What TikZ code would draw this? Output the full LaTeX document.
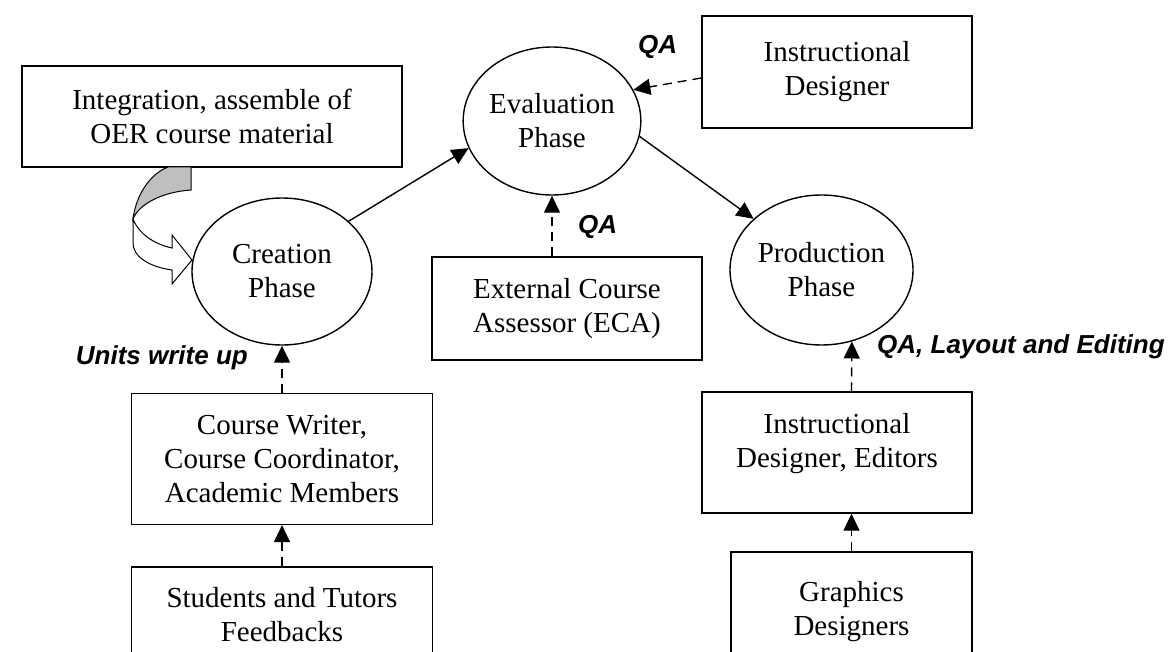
\documentclass[tikz,border=0pt]{standalone}
\usepackage{fontspec}
\setmainfont{Liberation Serif}
\newfontfamily\qafont{Liberation Sans}
\usetikzlibrary{shapes.geometric, arrows.meta, positioning}

\begin{document}
\begin{tikzpicture}[
        x=1pt, y=-1pt,
        box/.style={rectangle, draw=black, line width=1.4pt, minimum width=270pt, minimum height=103pt, inner sep=0pt, align=center, font=\fontsize{29}{34}\selectfont},
        phase/.style={ellipse, draw=black, line width=1.4pt, inner sep=0pt, align=center, font=\fontsize{29}{34}\selectfont},
        flow/.style={line width=1.4pt, -{Triangle[length=17pt,width=16pt]}},
        qa/.style={flow, dash pattern=on 9pt off 6pt},
        tag/.style={font=\qafont\bfseries\itshape\fontsize{26}{30}\selectfont, inner sep=0pt}
    ]
    \clip (0,0) rectangle (1173,652);

    % Phases
    \node[phase, minimum width=180pt, minimum height=147pt] (crea) at (282,271.5) {Creation\\Phase};
    \node[phase, minimum width=176pt, minimum height=148pt] (eval) at (552,121) {Evaluation\\Phase};
    \node[phase, minimum width=183pt, minimum height=150pt] (prod) at (821.5,270) {Production\\Phase};

    % Boxes
    \node[box, minimum width=380pt, minimum height=101pt] (integ) at (212,116.5) {Integration, assemble of\\OER course material};
    \node[box, minimum height=112pt] (idtop) at (837,72) {Instructional\\Designer};
    \node[box] (eca) at (567,308.5) {External Course\\Assessor (ECA)};
    \node[box, minimum width=301pt, minimum height=131pt, below=47pt of crea] (cw) {Course Writer,\\Course Coordinator,\\Academic Members};
    \node[box, minimum width=301pt, minimum height=96pt, below=41pt of cw] (stud) {Students and Tutors\\Feedbacks};
    \node[box, minimum height=121pt, text depth=25pt] (ided) at (837,452.5) {Instructional\\Designer, Editors};
    \node[box, minimum width=241pt, minimum height=120pt] (gfx) at (851.5,612) {Graphics\\Designers};

    % Curved arrow
    \filldraw[fill=black!25, line width=1pt] (191,167) -- (191,190) .. controls (162,192) and (139,204) .. (133,219) .. controls (136,195) and (150,174) .. (168,167) -- cycle;
    \filldraw[fill=white, line width=1pt] (133,219) .. controls (139,234) and (154,244) .. (172,248) -- (172,235) -- (192,260) -- (172,284) -- (172,270) .. controls (150,267) and (133,257) .. (133,243) -- cycle;

    % Connections
    \draw[flow] (crea.37) -- (eval.198);
    \draw[flow] (eval.-10) -- (prod.143);
    \draw[qa] ([yshift=-6pt]idtop.west) -- (eval.21);
    \draw[qa] (eca.north -| eval.south) -- (eval.south);
    \draw[qa] (cw.north) -- (crea.south);
    \draw[qa] (stud.north) -- (cw.south);
    \draw[qa] (ided.north -| gfx.north) -- (prod.-67);
    \draw[qa] (gfx.north) -- (ided.south -| gfx.north);

    % Labels
    \node[tag, anchor=base west] (qatop) at (638,54) {QA};
    \node[tag, anchor=base west] (qamid) at (578,234) {QA};
    \node[tag, anchor=base east] (units) at (248,365) {Units write up};
    \node[tag, anchor=base west] (qalay) at (877,354) {QA, Layout and Editing};

\end{tikzpicture}
\end{document}
